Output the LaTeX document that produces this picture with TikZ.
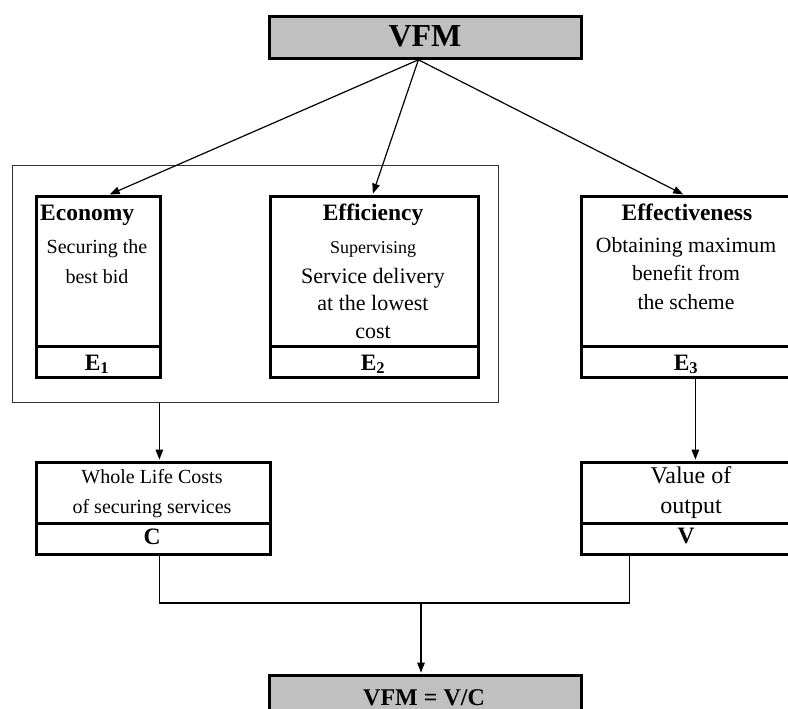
\documentclass[tikz,border=0pt]{standalone}
\usepackage{fontspec}
\setmainfont{Liberation Serif}
\usetikzlibrary{arrows.meta,positioning,calc}
\definecolor{boxgray}{HTML}{C0C0C0}
\definecolor{framegray}{HTML}{333333}

\tikzset{
  box/.style={draw,line width=2.8pt,inner sep=0pt,anchor=north west},
  graybox/.style={box,fill=boxgray},
  group/.style={draw=framegray,line width=1.1pt,inner sep=0pt,anchor=north west},
  head/.style={font=\bfseries\fontsize{23.5}{28}\selectfont,inner sep=0pt},
  body/.style={font=\fontsize{20}{30}\selectfont,align=center,inner sep=0pt,anchor=north},
  link/.style={line width=1.2pt},
  arr/.style={link,-{Triangle[length=10pt,width=7.5pt]},shorten >=1.4pt}
}

\begin{document}
\begin{tikzpicture}[x=1pt,y=-1pt]
  \useasboundingbox (0,0) rectangle (788,709);
  % top box
  \node[graybox,minimum width=312pt,minimum height=42pt] (vfm) at (268,15) {};
  \node[head,font=\bfseries\fontsize{32}{38}\selectfont,anchor=base] (vfm-t) at (425,47) {VFM};

  % the three E's
  \node[group,minimum width=486pt,minimum height=237pt] (grp) at (12,165) {};
  \node[box,minimum width=124pt,minimum height=150pt] (eco) at (35,195) {};
  \node[box,minimum width=124pt,minimum height=31pt] (eco-e) at (35,345) {};
  \node[head,anchor=base west] (eco-t) at (40,220) {Economy};
  \node[body] (eco-b) at (97,239) {Securing the\\best bid};
  \node[head,anchor=base] (eco-l) at (97,370) {E\textsubscript{1}};

  \node[box,minimum width=208pt,minimum height=150pt] (effi) at (269,195) {};
  \node[box,minimum width=208pt,minimum height=31pt] (effi-e) at (269,345) {};
  \node[head,anchor=base] (effi-t) at (373,220) {Efficiency};
  \node[body,font=\fontsize{18}{22}\selectfont,anchor=base] (effi-s) at (373,253) {Supervising};
  \node[body,font=\fontsize{22}{27.5}\selectfont] (effi-b) at (373,268) {Service delivery\\at the lowest\\cost};
  \node[head,anchor=base] (effi-l) at (373,370) {E\textsubscript{2}};

  \node[box,minimum width=212pt,minimum height=150pt] (effv) at (580,195) {};
  \node[box,minimum width=212pt,minimum height=31pt] (effv-e) at (580,345) {};
  \node[head,anchor=base] (effv-t) at (687,220) {Effectiveness};
  \node[body,font=\fontsize{21.7}{28.5}\selectfont] (effv-b) at (686,237) {Obtaining maximum\\benefit from\\the scheme};
  \node[head,anchor=base] (effv-l) at (686,370) {E\textsubscript{3}};

  % cost and value
  \node[box,minimum width=234pt,minimum height=61pt] (cbox) at (35,461) {};
  \node[box,minimum width=234pt,minimum height=31pt] (cbox-c) at (35,522) {};
  \node[body] (c-b) at (152,469) {Whole Life Costs\\of securing services};
  \node[head,anchor=base] (c-l) at (152,544) {C};

  \node[box,minimum width=212pt,minimum height=61pt] (vbox) at (580,461) {};
  \node[box,minimum width=212pt,minimum height=31pt] (vbox-v) at (580,522) {};
  \node[body,font=\fontsize{24}{30}\selectfont] (v-b) at (691,466.5) {Value of\\output};
  \node[head,anchor=base] (v-l) at (686,543) {V};

  % result
  \node[graybox,minimum width=312pt,minimum height=70pt] (res) at (268,674) {};
  \node[head,font=\bfseries\fontsize{24}{29}\selectfont,anchor=base] (res-t) at (424,705) {VFM = V/C};

  % connectors
  \draw[arr] ([xshift=-7pt]vfm.south) -- ([xshift=10pt]eco.north);
  \draw[arr] ([xshift=-7pt]vfm.south) -- ([xshift=-2pt]effi.north);
  \draw[arr] ([xshift=-7pt]vfm.south) -- ([xshift=-3pt]effv.north);
  \coordinate (c-in) at ([xshift=6pt]cbox.north);
  \draw[arr] (grp.south -| c-in) -- (c-in);
  \draw[arr] ([xshift=8pt]effv-e.south) -- ([xshift=8pt]vbox.north);
  \coordinate (join) at (421,603);
  \draw[link] ([xshift=6pt]cbox-c.south) |- (join) -| ([xshift=-58pt]vbox-v.south);
  \draw[arr] (join) -- (join |- res.north);
\end{tikzpicture}
\end{document}
